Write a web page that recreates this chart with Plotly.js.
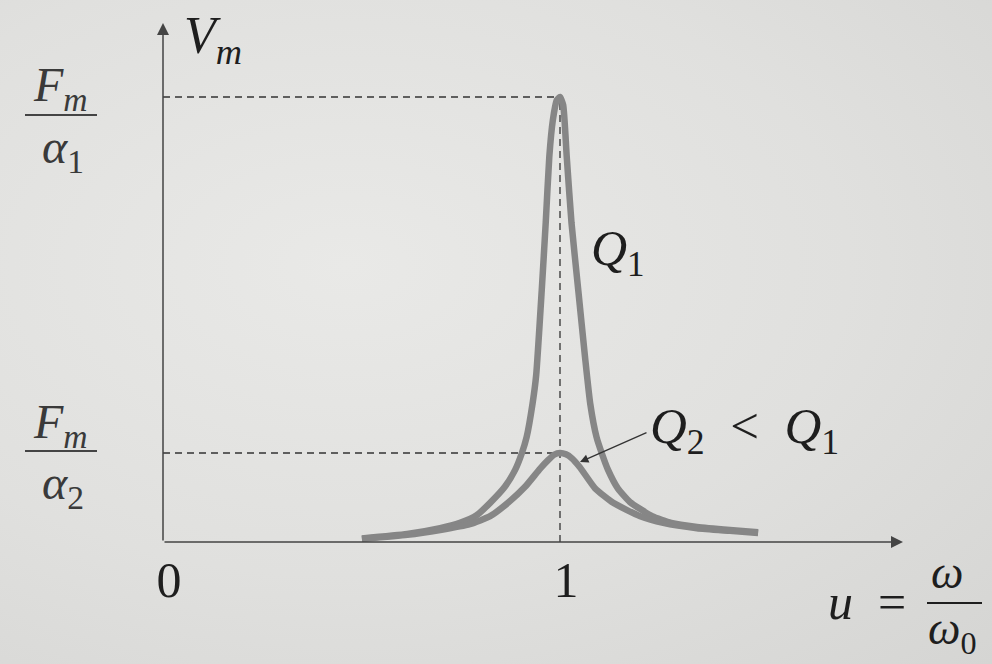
<!DOCTYPE html>
<html>
<head>
<meta charset="utf-8">
<script src="https://cdn.plot.ly/plotly-3.0.1.min.js"></script>
<style>
  html, body { margin: 0; padding: 0; }
  body {
    width: 992px; height: 664px; overflow: hidden;
    background: radial-gradient(ellipse at 35% 40%, #e9e9e7 0%, #e0e0de 55%, #d5d5d3 100%);
  }
  #chart { width: 992px; height: 664px; }
</style>
</head>
<body>
<div id="chart"></div>
<script>
// Reduced frequency u = ω/ω0 and velocity amplitude (in units of Fm/α1)
const u1 = [0.501, 0.615, 0.698, 0.748, 0.790, 0.824, 0.861, 0.887, 0.904, 0.916, 0.931, 0.940, 0.954, 0.964, 0.973, 0.982, 0.992, 1.000,
            1.008, 1.017, 1.029, 1.046, 1.063, 1.076, 1.092, 1.105, 1.121, 1.146, 1.176, 1.232, 1.280, 1.345, 1.428, 1.499];
const v1 = [0.008, 0.018, 0.031, 0.043, 0.060, 0.088, 0.124, 0.162, 0.200, 0.236, 0.312, 0.375, 0.566, 0.717, 0.865, 0.948, 0.993, 1.000,
            0.982, 0.865, 0.717, 0.566, 0.416, 0.312, 0.236, 0.200, 0.162, 0.120, 0.090, 0.058, 0.043, 0.034, 0.027, 0.022];

// Lower quality factor Q2 < Q1
const u2 = [0.501, 0.615, 0.698, 0.773, 0.824, 0.869, 0.912, 0.950, 0.970, 0.985, 1.000,
            1.015, 1.030, 1.050, 1.088, 1.134, 1.202, 1.260, 1.345, 1.428, 1.499];
const v2 = [0.007, 0.016, 0.027, 0.040, 0.058, 0.088, 0.124, 0.165, 0.184, 0.196, 0.200,
            0.197, 0.188, 0.168, 0.121, 0.088, 0.058, 0.043, 0.031, 0.025, 0.020];

const tickVals = [0, 1];
const tickText = ['0', '1'];

// plot frame in page pixels
const L = 163, R = 903, T = 25, B = 542;
const W = 992, H = 664;
const X_MAX = (R - L) / 397;      // 397 px per unit of u
const Y_MAX = (B - T) / 445;      // 445 px per unit of Fm/α1
const px = X => (X - L) / (R - L);
const py = Y => (B - Y) / (B - T);

const SERIF = 'Liberation Serif';
const INK = '#1e1e1e';
const SOFT = '#3a3a3a';
const CURVE = '#868686';
const SP = '\u2005';   // thin gap around relation signs

const peak1 = Math.max(...v1);
const peak2 = Math.max(...v2);
const uRes = u1[v1.indexOf(peak1)];

const curveLine = { color: CURVE, width: 6.5, shape: 'spline', smoothing: 0.5 };
const traces = [
  { x: u1, y: v1, mode: 'lines', line: curveLine, hoverinfo: 'skip' },
  { x: u2, y: v2, mode: 'lines', line: curveLine, hoverinfo: 'skip' }
];

const dashStyle = { color: '#333', width: 1.3, dash: '7px,5px' };
const shapes = [
  { type: 'line', xref: 'x', yref: 'y', x0: 0, x1: uRes, y0: peak1, y1: peak1, line: dashStyle, layer: 'below' },
  { type: 'line', xref: 'x', yref: 'y', x0: uRes, x1: uRes, y0: 0, y1: peak1, line: dashStyle, layer: 'below' },
  { type: 'line', xref: 'x', yref: 'y', x0: 0, x1: uRes, y0: peak2, y1: peak2, line: dashStyle, layer: 'below' },
  // fraction bars
  { type: 'line', xref: 'paper', yref: 'paper', x0: px(25), x1: px(97), y0: py(115), y1: py(115), line: { color: '#444', width: 1.8 } },
  { type: 'line', xref: 'paper', yref: 'paper', x0: px(25), x1: px(97), y0: py(451), y1: py(451), line: { color: '#444', width: 1.8 } },
  { type: 'line', xref: 'paper', yref: 'paper', x0: px(927), x1: px(982), y0: py(603), y1: py(603), line: { color: INK, width: 1.8 } }
];

function label(text, X, Y, size, xanchor, color) {
  return { xref: 'paper', yref: 'paper', x: px(X), y: py(Y), text: text, showarrow: false,
           xanchor: xanchor || 'center', yanchor: 'middle',
           font: { family: SERIF, size: size, color: color || INK } };
}

const annotations = [
  // axes with arrow heads
  { xref: 'x', yref: 'y', axref: 'x', ayref: 'y', x: X_MAX, y: 0, ax: 0, ay: 0, text: '',
    showarrow: true, arrowhead: 2, arrowsize: 1.6, arrowwidth: 1.5, arrowcolor: '#444' },
  { xref: 'x', yref: 'y', axref: 'x', ayref: 'y', x: 0, y: (B - 23) / 445, ax: 0, ay: 0, text: '',
    showarrow: true, arrowhead: 2, arrowsize: 1.6, arrowwidth: 1.5, arrowcolor: '#444' },
  label('<i>V</i><sub><i>m</i></sub>', 182, 40, 52, 'left'),
  label('<i>F</i><sub><i>m</i></sub>', 60, 88, 48, 'center', SOFT),
  label('<i>α</i><sub>1</sub>', 63, 150, 48, 'center', SOFT),
  label('<i>F</i><sub><i>m</i></sub>', 60, 425, 48, 'center', SOFT),
  label('<i>α</i><sub>2</sub>', 63, 486, 48, 'center', SOFT),
  label('<i>Q</i><sub>1</sub>', 589, 252, 50, 'left'),
  label('<i>Q</i><sub>2</sub>' + SP + ' &lt; ' + SP + '<i>Q</i><sub>1</sub>', 648, 430, 51, 'left'),
  label('<i>u</i>' + SP + ' = ', 826, 602, 50, 'left'),
  label('<i>ω</i>', 947, 572, 46, 'center'),
  label('<i>ω</i><sub>0</sub>', 952, 632, 46, 'center'),
  // pointer to the Q2 curve
  { xref: 'paper', yref: 'paper', axref: 'pixel', ayref: 'pixel', x: px(580), y: py(462), ax: 68, ay: -30, text: '',
    showarrow: true, arrowhead: 2, arrowsize: 1.3, arrowwidth: 1.3, arrowcolor: '#333' }
];

const layout = {
  width: W, height: H,
  margin: { l: L, r: W - R, t: T, b: H - B, pad: 0 },
  paper_bgcolor: 'rgba(0,0,0,0)',
  plot_bgcolor: 'rgba(0,0,0,0)',
  showlegend: false,
  font: { family: SERIF },
  xaxis: { range: [0, X_MAX], showgrid: false, zeroline: false, showline: false,
           tickvals: tickVals, ticktext: tickText, ticks: '', ticklabelstandoff: 4, ticklabelshift: 6,
           tickfont: { family: SERIF, size: 50, color: INK }, fixedrange: true },
  yaxis: { range: [0, Y_MAX], showgrid: false, zeroline: false, showline: false,
           showticklabels: false, ticks: '', fixedrange: true },
  shapes: shapes,
  annotations: annotations
};

Plotly.newPlot('chart', traces, layout, { displayModeBar: false, staticPlot: true });
</script>
</body>
</html>
